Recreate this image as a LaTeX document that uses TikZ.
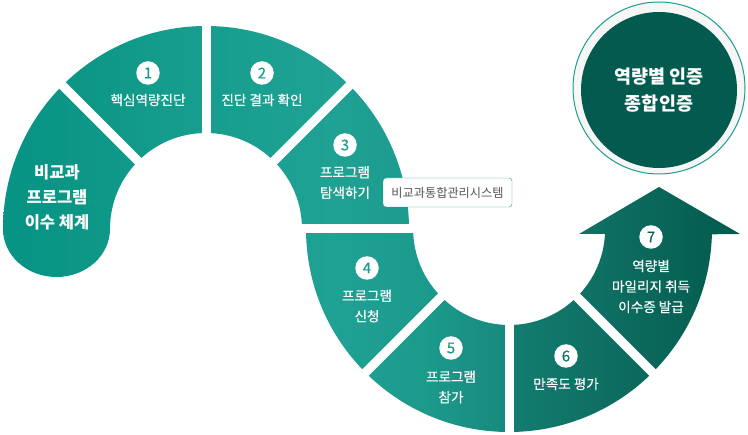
\documentclass[tikz,border=0pt]{standalone}
\usepackage{fontspec}
\setmainfont{Noto Sans CJK KR}
\newfontfamily\labfont{Noto Sans CJK KR}[FakeBold=0.35]
\definecolor{g0}{HTML}{079484}
\definecolor{g1}{HTML}{0A9585}
\definecolor{g2}{HTML}{139B8B}
\definecolor{g3}{HTML}{1AA090}
\definecolor{g4}{HTML}{1FA193}
\definecolor{g5}{HTML}{1C9B8D}
\definecolor{g6}{HTML}{178A7E}
\definecolor{g7}{HTML}{137C70}
\definecolor{g8}{HTML}{0E6F62}
\definecolor{g9}{HTML}{035A4C}
\definecolor{ringc}{HTML}{1A9E8C}
\definecolor{ringfill}{HTML}{F6F6F6}
\definecolor{darkc}{HTML}{035A4E}
\definecolor{boxc}{HTML}{1A9E8C}
\definecolor{textgray}{HTML}{555555}
\definecolor{n1}{HTML}{0F9888}
\definecolor{n2}{HTML}{1A9E8E}
\definecolor{n3}{HTML}{1E9F91}
\definecolor{n4}{HTML}{1E9C8F}
\definecolor{n5}{HTML}{1B968A}
\definecolor{n6}{HTML}{127668}
\definecolor{n7}{HTML}{0A6053}
\pgfdeclarehorizontalshading{flow}{100bp}{color(0bp)=(g0); color(25bp)=(g0); color(29.01bp)=(g1); color(35.03bp)=(g2); color(42.38bp)=(g3); color(47.06bp)=(g4); color(53.07bp)=(g5); color(58.76bp)=(g6); color(59.43bp)=(g7); color(65.11bp)=(g8); color(74.47bp)=(g9); color(100bp)=(g9)}
\begin{document}
\begin{tikzpicture}[x=1pt,y=-1pt,
  gapline/.style={white, line width=9pt},
  badge/.style={circle, fill=white, minimum size=23.5pt, inner sep=0pt, font=\labfont\fontsize{15}{15}\selectfont},
  lbl/.style={text=white, align=center, inner sep=0pt, font=\labfont\fontsize{13.6}{20.5}\selectfont},
  boldlbl/.style={text=white, align=center, inner sep=0pt, font=\bfseries\fontsize{16.5}{25}\selectfont}]
\useasboundingbox (0,0) rectangle (748,435);
\coordinate (c1) at (206,229);
\coordinate (c2) at (509,229);
\begin{scope}
\clip (3,229) arc[start angle=-180, end angle=0, radius=203] -- (302,229)
   arc[start angle=0, end angle=-180, radius=96]
   arc[start angle=0, end angle=180, x radius=53.5, y radius=48] -- cycle
   (306,229) arc[start angle=180, end angle=1.5, radius=203] -- (740,234) -- (659,187) -- (579,234) -- (605,234)
   arc[start angle=3, end angle=180, radius=96] -- cycle;
\shade[shading=flow] (0,0) rectangle (748,435);
\end{scope}
% gaps
\draw[gapline] (c1) ++(-135:88) -- ++(-135:125);
\draw[gapline] (c1) ++(-90:88) -- ++(-90:125);
\draw[gapline] (c1) ++(-45:88) -- ++(-45:125);
\draw[gapline] (296,229) -- (420,229);
\draw[gapline] (c2) ++(135:88) -- ++(135:125);
\draw[gapline] (c2) ++(90:88) -- ++(90:125);
\draw[gapline] (c2) ++(45:88) -- ++(45:125);
% big circle
\node[circle, draw=ringc, line width=1pt, fill=ringfill, minimum size=172pt, inner sep=0pt] (ring) at (659,88) {};
\node[circle, fill=darkc, minimum size=156pt, inner sep=0pt, text=white, align=center, font=\bfseries\fontsize{18.5}{27}\selectfont] (cert) at (659,90) {역량별 인증\\종합인증};
% labels
\node[boldlbl] (t0) at (57,197) {비교과\\프로그램\\이수 체계};
\node[badge, text=n1] (b1) at (148,73) {1};
\node[lbl] (t1) at (148,100) {핵심역량진단};
\node[badge, text=n2] (b2) at (262,73) {2};
\node[lbl] (t2) at (262,100) {진단 결과 확인};
\node[badge, text=n3] (b3) at (345,145) {3};
\node[lbl] (t3) at (345,182.5) {프로그램\\탐색하기};
\node[draw=boxc, fill=white, rounded corners=3pt, minimum width=129pt, minimum height=29pt, inner sep=0pt, text=textgray, font=\fontsize{12.2}{12}\selectfont] (sys) at (447.5,192.5) {비교과통합관리시스템};
\node[badge, text=n4] (b4) at (367,268) {4};
\node[lbl] (t4) at (367,306) {프로그램\\신청};
\node[badge, text=n5] (b5) at (451,348) {5};
\node[lbl] (t5) at (451,387) {프로그램\\참가};
\node[badge, text=n6] (b6) at (566,356) {6};
\node[lbl] (t6) at (566,384) {만족도 평가};
\node[badge, text=n7] (b7) at (651,237) {7};
\node[lbl] (t7) at (651,286.5) {역량별\\마일리지 취득\\이수증 발급};
\end{tikzpicture}
\end{document}
